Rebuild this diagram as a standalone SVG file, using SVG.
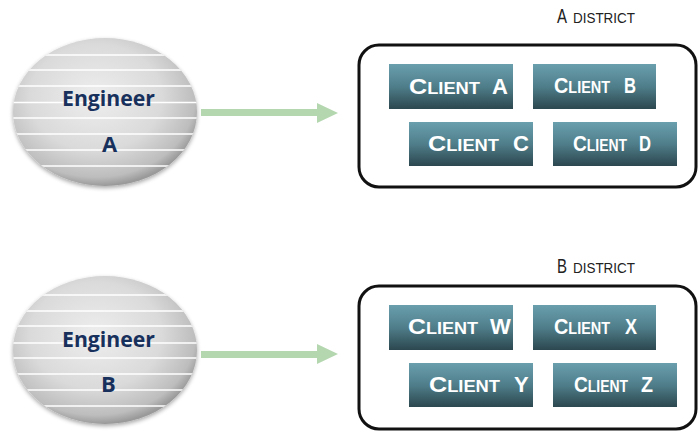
<svg xmlns="http://www.w3.org/2000/svg" width="698" height="431" viewBox="0 0 698 431">
<defs>
<radialGradient id="egrad" cx="0.45" cy="0.4" r="0.6">
<stop offset="0" stop-color="#EEEEEE"/>
<stop offset="0.6" stop-color="#DADADA"/>
<stop offset="0.9" stop-color="#BDBDBD"/>
<stop offset="1" stop-color="#9A9A9A"/>
</radialGradient>
<linearGradient id="cgrad" x1="0" y1="0" x2="0" y2="1">
<stop offset="0" stop-color="#6A9FAE"/>
<stop offset="0.5" stop-color="#4F7E8A"/>
<stop offset="1" stop-color="#2C474F"/>
</linearGradient>
<clipPath id="ceA"><ellipse cx="105" cy="112" rx="92" ry="74"/></clipPath>
<clipPath id="ceB"><ellipse cx="105" cy="350" rx="92" ry="74"/></clipPath>
<clipPath id="cA"><rect x="389" y="64" width="124" height="45"/></clipPath>
<clipPath id="cC"><rect x="409" y="122" width="124" height="44"/></clipPath>
<clipPath id="cW"><rect x="389" y="305" width="124" height="45"/></clipPath>
<clipPath id="cY"><rect x="409" y="363" width="124" height="44"/></clipPath>
<filter id="sh" x="-10%" y="-10%" width="120%" height="130%">
<feGaussianBlur in="SourceAlpha" stdDeviation="2"/>
<feOffset dy="2"/>
<feComponentTransfer><feFuncA type="linear" slope="0.35"/></feComponentTransfer>
<feMerge><feMergeNode/><feMergeNode in="SourceGraphic"/></feMerge>
</filter>
</defs>
<style>
.eng{font-family:"Open Sans","Liberation Sans",Arial,sans-serif;font-weight:bold;font-size:22px;fill:#17305C;}
.line{stroke:#FFFFFF;stroke-width:1.6;}
.dist{fill:none;stroke:#111111;stroke-width:3;}
.cbox{fill:url(#cgrad);}
.ct{font-family:"Liberation Sans",Arial,sans-serif;font-weight:bold;fill:#FFFFFF;font-size:16px;}
.big{font-size:22px;}
.lbl{font-family:"Liberation Sans",Arial,sans-serif;fill:#222222;}
.arrow{fill:#B5D7B0;}
</style>

<g id="engineerA">
<ellipse cx="105" cy="112" rx="92" ry="74" fill="url(#egrad)" filter="url(#sh)"/>
<g clip-path="url(#ceA)">
<line class="line" x1="0" y1="55" x2="200" y2="55"/>
<line class="line" x1="0" y1="70" x2="200" y2="70"/>
<line class="line" x1="0" y1="86" x2="200" y2="86"/>
<line class="line" x1="0" y1="102.5" x2="200" y2="102.5"/>
<line class="line" x1="0" y1="118" x2="200" y2="118"/>
<line class="line" x1="0" y1="134" x2="200" y2="134"/>
<line class="line" x1="0" y1="150" x2="200" y2="150"/>
<line class="line" x1="0" y1="166" x2="200" y2="166"/>
</g>
<text class="eng" x="62" y="106" textLength="93" lengthAdjust="spacingAndGlyphs">Engineer</text>
<text class="eng" x="109.5" y="152" text-anchor="middle">A</text>
</g>

<g id="engineerB">
<ellipse cx="105" cy="350" rx="92" ry="74" fill="url(#egrad)" filter="url(#sh)"/>
<g clip-path="url(#ceB)">
<line class="line" x1="0" y1="295" x2="200" y2="295"/>
<line class="line" x1="0" y1="311" x2="200" y2="311"/>
<line class="line" x1="0" y1="326" x2="200" y2="326"/>
<line class="line" x1="0" y1="343" x2="200" y2="343"/>
<line class="line" x1="0" y1="358" x2="200" y2="358"/>
<line class="line" x1="0" y1="374" x2="200" y2="374"/>
<line class="line" x1="0" y1="390" x2="200" y2="390"/>
<line class="line" x1="0" y1="406" x2="200" y2="406"/>
</g>
<text class="eng" x="62" y="347" textLength="93" lengthAdjust="spacingAndGlyphs">Engineer</text>
<text class="eng" x="108.5" y="392" text-anchor="middle">B</text>
</g>

<g id="connectors">
<polygon class="arrow" points="201,109 317,109 317,103 338,113 317,123 317,116 201,116"/>
<polygon class="arrow" points="201,351 317,351 317,344 338,354 317,364 317,358 201,358"/>
</g>

<g id="districtA">
<text class="lbl" x="557" y="23" font-size="21px" textLength="10" lengthAdjust="spacingAndGlyphs">A</text>
<text class="lbl" x="573" y="23" font-size="14px" textLength="62" lengthAdjust="spacingAndGlyphs">DISTRICT</text>
<rect class="dist" x="359" y="45" width="337" height="142" rx="20" ry="20"/>
</g>

<g id="districtB">
<text class="lbl" x="557" y="273" font-size="21px" textLength="10" lengthAdjust="spacingAndGlyphs">B</text>
<text class="lbl" x="573" y="273" font-size="14px" textLength="62" lengthAdjust="spacingAndGlyphs">DISTRICT</text>
<rect class="dist" x="359" y="286" width="337" height="143" rx="20" ry="20"/>
</g>

<g id="clientA">
<rect class="cbox" x="389" y="64" width="124" height="45"/>
<g clip-path="url(#cA)">
<text class="ct" x="409" y="94" textLength="71" lengthAdjust="spacingAndGlyphs"><tspan class="big">C</tspan>LIENT</text>
<text class="ct big" x="492" y="94">A</text>
</g>
</g>
<g id="clientB">
<rect class="cbox" x="533" y="64" width="123" height="45"/>
<text class="ct" x="554" y="93" textLength="56" lengthAdjust="spacingAndGlyphs"><tspan class="big">C</tspan>LIENT</text>
<text class="ct big" x="624" y="93" textLength="12" lengthAdjust="spacingAndGlyphs">B</text>
</g>
<g id="clientC">
<rect class="cbox" x="409" y="122" width="124" height="44"/>
<g clip-path="url(#cC)">
<text class="ct" x="428" y="151" textLength="71" lengthAdjust="spacingAndGlyphs"><tspan class="big">C</tspan>LIENT</text>
<text class="ct big" x="513" y="151">C</text>
</g>
</g>
<g id="clientD">
<rect class="cbox" x="553" y="122" width="124" height="44"/>
<text class="ct" x="573" y="151" textLength="54" lengthAdjust="spacingAndGlyphs"><tspan class="big">C</tspan>LIENT</text>
<text class="ct big" x="639" y="151" textLength="12" lengthAdjust="spacingAndGlyphs">D</text>
</g>

<g id="clientW">
<rect class="cbox" x="389" y="305" width="124" height="45"/>
<g clip-path="url(#cW)">
<text class="ct" x="408" y="334" textLength="70" lengthAdjust="spacingAndGlyphs"><tspan class="big">C</tspan>LIENT</text>
<text class="ct big" x="490" y="334">W</text>
</g>
</g>
<g id="clientX">
<rect class="cbox" x="533" y="305" width="123" height="45"/>
<text class="ct" x="554" y="334" textLength="56" lengthAdjust="spacingAndGlyphs"><tspan class="big">C</tspan>LIENT</text>
<text class="ct big" x="625" y="334" textLength="12" lengthAdjust="spacingAndGlyphs">X</text>
</g>
<g id="clientY">
<rect class="cbox" x="409" y="363" width="124" height="44"/>
<g clip-path="url(#cY)">
<text class="ct" x="429" y="392" textLength="71" lengthAdjust="spacingAndGlyphs"><tspan class="big">C</tspan>LIENT</text>
<text class="ct big" x="514" y="392">Y</text>
</g>
</g>
<g id="clientZ">
<rect class="cbox" x="553" y="363" width="124" height="44"/>
<text class="ct" x="574" y="392" textLength="54" lengthAdjust="spacingAndGlyphs"><tspan class="big">C</tspan>LIENT</text>
<text class="ct big" x="641" y="392" textLength="12" lengthAdjust="spacingAndGlyphs">Z</text>
</g>
</svg>
